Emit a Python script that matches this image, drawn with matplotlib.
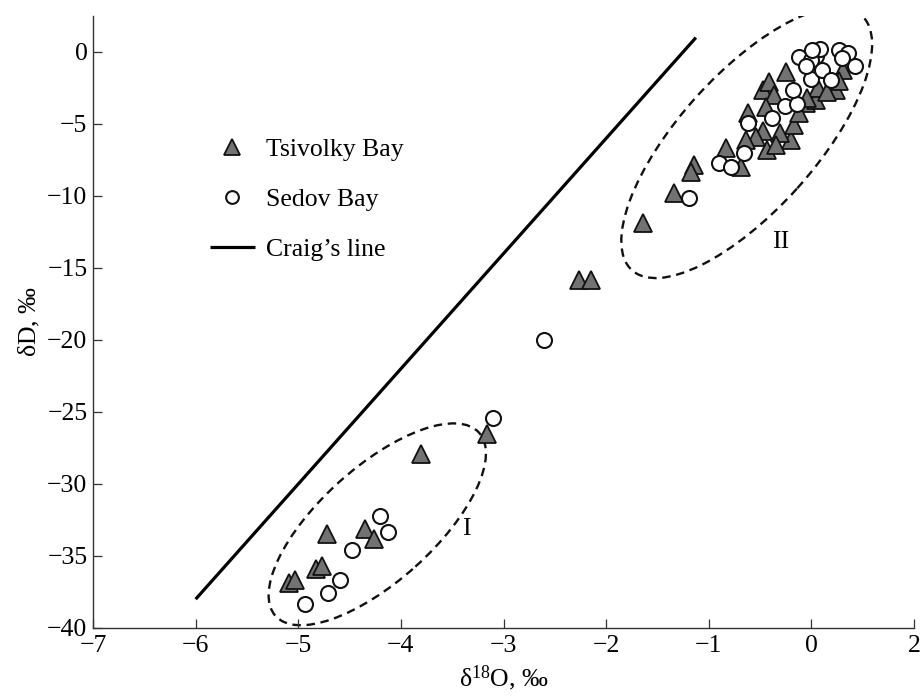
import matplotlib
matplotlib.use("Agg")
import matplotlib.pyplot as plt
from matplotlib.patches import Ellipse
from matplotlib.transforms import Affine2D, ScaledTranslation

plt.rcParams["font.family"] = ["Liberation Serif", "DejaVu Serif"]
plt.rcParams["mathtext.fontset"] = "custom"
plt.rcParams["mathtext.rm"] = "Liberation Serif"
plt.rcParams["mathtext.it"] = "Liberation Serif:italic"

# Tsivolky Bay samples (δ18O, δD)
tsivolky_d18o = [-5.09, -5.03, -4.83, -4.77, -4.72, -4.35, -4.26, -3.80, -3.16,
                 -2.26, -2.15,
                 -1.64, -1.335, -1.14, -1.17, -0.83, -0.685, -0.62, -0.475, -0.41,
                 -0.25, -0.43, -0.475, -0.54, -0.20, -0.165, -0.36, -0.44, -0.05,
                 0.05, 0.06, 0.21, 0.31, 0.24, -0.12, -0.31, -0.34, -0.04, -0.64,
                 0.27, 0.15]
tsivolky_dD = [-36.9, -36.7, -35.9, -35.7, -33.5, -33.1, -33.8, -27.9, -26.5,
               -15.8, -15.8,
               -11.85, -9.77, -7.85, -8.3, -6.69, -7.96, -4.26, -2.64, -2.06,
               -1.37, -6.8, -5.5, -5.9, -6.1, -5.07, -2.99, -3.8, -3.56,
               -3.33, -2.52, -2.41, -1.25, -2.64, -4.26, -5.65, -6.46, -3.2, -6.1,
               -2.0, -2.8]

# Sedov Bay samples (δ18O, δD)
sedov_d18o = [-4.93, -4.71, -4.59, -4.48, -4.20, -4.13, -3.10, -2.61,
              -1.195, -0.90, -0.78, -0.66, -0.62, -0.38, -0.26, -0.14, -0.175,
              0.00, 0.10, 0.19, -0.12, 0.05, 0.085, 0.27, 0.36, 0.43, 0.30,
              0.00, 0.01, -0.05]
sedov_dD = [-38.3, -37.6, -36.7, -34.6, -32.2, -33.3, -25.4, -20.0,
            -10.16, -7.69, -7.96, -6.99, -4.95, -4.61, -3.75, -3.61, -2.64,
            -1.9, -1.25, -1.94, -0.33, -0.28, 0.19, 0.14, -0.05, -0.97, -0.44,
            -0.56, 0.14, -1.0]

# Global meteoric water line: δD = 8·δ18O + 10
craig_d18o = [-6.0, -1.125]
craig_dD = [8 * v + 10 for v in craig_d18o]

x_ticks = [-7, -6, -5, -4, -3, -2, -1, 0, 1]
x_tick_labels = ["\u22127", "\u22126", "\u22125", "\u22124", "\u22123", "\u22122", "\u22121", "0", "2"]
y_ticks = [0, -5, -10, -15, -20, -25, -30, -35, -40]
y_tick_labels = ["0", "\u22125", "\u221210", "\u221215", "\u221220", "\u221225", "\u221230", "\u221235", "\u221240"]

# group outlines: centre (data), semi-axes (points), rotation (deg)
groups = [
    {"label": "I", "centre": (-4.23, -32.8), "a": 98.6, "b": 41.0, "angle": 42.0, "text_at": (-3.36, -33.1)},
    {"label": "II", "centre": (-0.63, -6.3), "a": 123.5, "b": 49.0, "angle": 48.0, "text_at": (-0.30, -13.2)},
]

FS = 18.5

fig = plt.figure(figsize=(9.22, 6.98), dpi=100)
ax = fig.add_axes([0.1009, 0.1003, 0.8904, 0.8768])

ax.plot(craig_d18o, craig_dD, color="black", lw=2.3, solid_capstyle="butt",
        label="Craig\u2019s line", zorder=2)
ax.plot(tsivolky_d18o, tsivolky_dD, ls="none", marker="^", ms=13,
        mfc="#727272", mec="#111111", mew=1.3, label="Tsivolky Bay", zorder=3)
ax.plot(sedov_d18o, sedov_dD, ls="none", marker="o", ms=10.8,
        mfc="white", mec="#111111", mew=1.5, label="Sedov Bay", zorder=4)

for g in groups:
    tr = (Affine2D().scale(1 / 72.0) + fig.dpi_scale_trans +
          ScaledTranslation(g["centre"][0], g["centre"][1], ax.transData))
    e = Ellipse((0, 0), 2 * g["a"], 2 * g["b"], angle=g["angle"], transform=tr,
                fill=False, ec="#111111", lw=1.7, ls=(0, (3.6, 2.4)), zorder=1)
    ax.add_patch(e)
    ax.text(g["text_at"][0], g["text_at"][1], g["label"], fontsize=FS,
            ha="center", va="center")

ax.set_xlim(-7, 1)
ax.set_ylim(-40, 2.5)
ax.set_xticks(x_ticks)
ax.set_xticklabels(x_tick_labels)
ax.set_yticks(y_ticks)
ax.set_yticklabels(y_tick_labels)
ax.tick_params(direction="in", length=6.5, width=0.9, labelsize=FS, color="#333333")
ax.tick_params(axis="x", pad=5.0)
ax.tick_params(axis="y", pad=4.0)

for side in ("top", "right"):
    ax.spines[side].set_visible(False)
for side in ("left", "bottom"):
    ax.spines[side].set_color("#333333")
    ax.spines[side].set_linewidth(1.0)

ax.set_xlabel("\u03b4$^{18}$O, $\\mathit{\u2030}$", fontsize=FS, labelpad=5)
ax.set_ylabel("\u03b4D, $\\mathit{\u2030}$", fontsize=FS, labelpad=4)

handles, labels = ax.get_legend_handles_labels()
order = [1, 2, 0]
leg = ax.legend([handles[i] for i in order], [labels[i] for i in order],
                loc="upper left", bbox_to_anchor=(0.142, 0.800), frameon=False,
                fontsize=FS, handlelength=1.75, handletextpad=0.45, labelspacing=1.05,
                borderpad=0, borderaxespad=0, markerscale=0.85)

fig.savefig("out.png", dpi=100)
